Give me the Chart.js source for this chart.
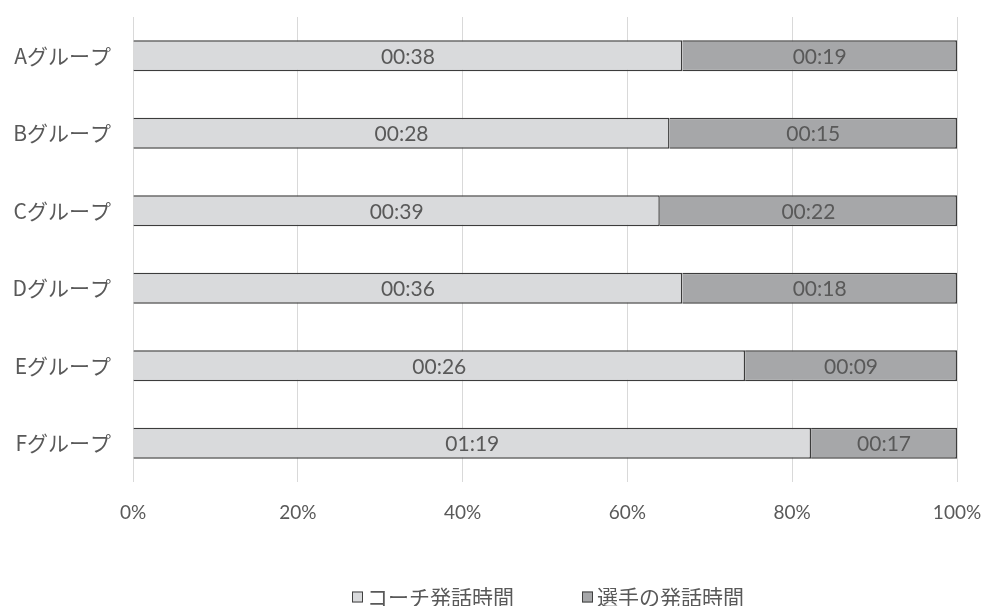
<!DOCTYPE html>
<html>
<head>
<meta charset="utf-8">
<script src="https://cdn.jsdelivr.net/npm/chart.js@4/dist/chart.umd.min.js"></script>
<style>
  html, body { margin: 0; padding: 0; background: #fff; }
  #wrap { width: 984px; height: 606px; }
</style>
</head>
<body>
<div id="wrap"><canvas id="grafica"></canvas></div>
<script>
// grupos y tiempos (segundos)
const grupos = ['Aグループ', 'Bグループ', 'Cグループ', 'Dグループ', 'Eグループ', 'Fグループ'];
const coachSeg = [38, 28, 39, 36, 26, 79];
const jugadorSeg = [19, 15, 22, 18, 9, 17];
const nombresSeries = ['コーチ発話時間', '選手の発話時間'];
const xTicks = [0, 20, 40, 60, 80, 100];

const grisTexto = '#595959';
const fuenteLat = "Lato, 'Noto Sans CJK JP', sans-serif";
const fuenteJp = "'Noto Sans CJK JP', sans-serif";

function mmss(s) {
    const m = Math.floor(s / 60);
    const r = s % 60;
    return String(m).padStart(2, '0') + ':' + String(r).padStart(2, '0');
}

// porcentajes del 100% apilado
const coachPct = coachSeg.map((v, i) => v / (v + jugadorSeg[i]) * 100);
const jugadorPct = jugadorSeg.map((v, i) => v / (coachSeg[i] + v) * 100);
const segundos = [coachSeg, jugadorSeg];

// sin padding automatico de las escalas
function sinPadding(scale) {
    scale.paddingTop = 0;
    scale.paddingBottom = 0;
    scale.paddingLeft = 0;
    scale.paddingRight = 0;
}

// etiquetas dentro de cada segmento
const etiquetasPlugin = {
    id: 'etiquetas',
    afterDatasetsDraw(chart) {
        const ctx = chart.ctx;
        ctx.save();
        ctx.font = '21px ' + fuenteLat;
        ctx.fillStyle = grisTexto;
        ctx.textAlign = 'center';
        ctx.textBaseline = 'middle';
        chart.data.datasets.forEach(function (ds, di) {
            chart.getDatasetMeta(di).data.forEach(function (bar, i) {
                const p = bar.getProps(['x', 'y', 'base'], true);
                ctx.fillText(mmss(segundos[di][i]), (p.x + p.base) / 2, p.y + 1);
            });
        });
        ctx.restore();
    }
};

// leyenda abajo
const leyendaPlugin = {
    id: 'leyenda',
    afterDraw(chart) {
        const ctx = chart.ctx;
        ctx.save();
        ctx.font = '21px ' + fuenteJp;
        ctx.textBaseline = 'middle';
        let x = 352;
        const y = 597;
        chart.data.datasets.forEach(function (ds) {
            ctx.fillStyle = ds.backgroundColor;
            ctx.fillRect(x, y - 5.5, 11, 11);
            ctx.strokeStyle = '#404040';
            ctx.lineWidth = 1;
            ctx.strokeRect(x + 0.5, y - 5, 10, 10);
            ctx.fillStyle = grisTexto;
            ctx.fillText(ds.label, x + 15, y);
            x += 15 + ctx.measureText(ds.label).width + 68;
        });
        ctx.restore();
    }
};

const data = {
    labels: grupos,
    datasets: [{
        label: nombresSeries[0],
        data: coachPct,
        backgroundColor: '#d9dadc',
        borderColor: '#3c3c3c',
        borderWidth: 1.5,
        barPercentage: 0.4,
        categoryPercentage: 1
    }, {
        label: nombresSeries[1],
        data: jugadorPct,
        backgroundColor: '#a6a7a9',
        borderColor: '#3c3c3c',
        borderWidth: 1.5,
        barPercentage: 0.4,
        categoryPercentage: 1
    }]
};

const config = {
    type: 'bar',
    data: data,
    options: {
        indexAxis: 'y',
        responsive: true,
        maintainAspectRatio: false,
        animation: false,
        layout: { padding: { top: 17, right: 27, left: 0, bottom: 0 } },
        plugins: {
            legend: { display: false },
            tooltip: { enabled: false }
        },
        scales: {
            x: {
                stacked: true,
                min: 0,
                max: 100,
                afterBuildTicks(scale) {
                    scale.ticks = xTicks.map(v => ({ value: v }));
                },
                afterFit(scale) {
                    scale.height = 124;
                    sinPadding(scale);
                },
                grid: { color: '#d9d9d9', lineWidth: 1, drawTicks: false },
                border: { display: false },
                ticks: {
                    padding: 19,
                    color: grisTexto,
                    font: { family: fuenteLat, size: 19 },
                    callback: v => v + '%'
                }
            },
            y: {
                stacked: true,
                afterFit(scale) {
                    scale.width = 133;
                    sinPadding(scale);
                },
                grid: { display: false },
                border: { display: false },
                ticks: {
                    padding: 14,
                    color: grisTexto,
                    font: { family: fuenteJp, size: 21 }
                }
            }
        }
    },
    plugins: [etiquetasPlugin, leyendaPlugin]
};

new Chart(document.getElementById('grafica'), config);
</script>
</body>
</html>
